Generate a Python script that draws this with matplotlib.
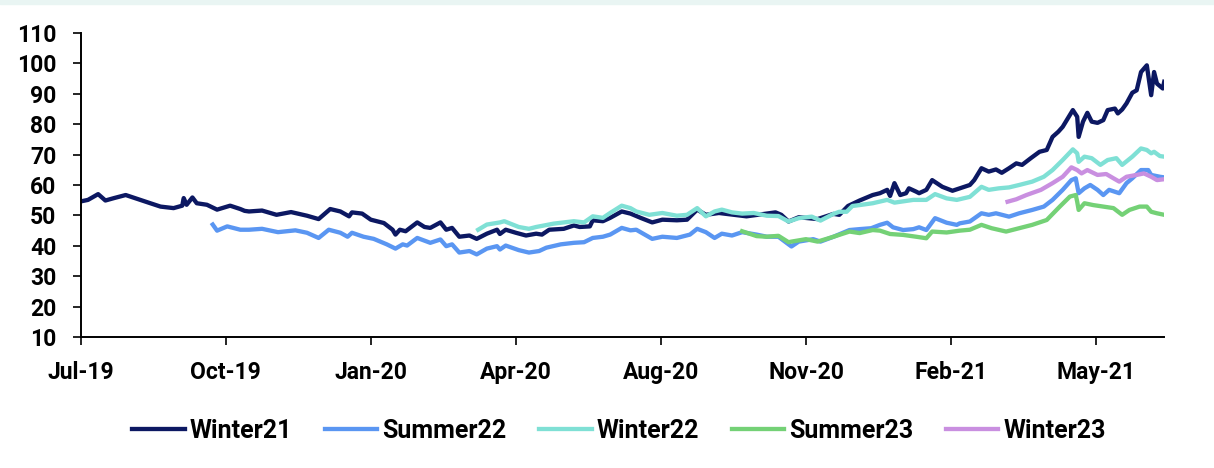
import pandas as pd
import matplotlib.pyplot as plt
import matplotlib.dates as mdates
from matplotlib.patches import Rectangle

plt.rcParams['font.family'] = ['Roboto', 'DejaVu Sans']
plt.rcParams['font.weight'] = 'bold'

# all series are indexed by days since 1 Jul 2019
start = pd.Timestamp('2019-07-01')

winter21_days = [0, 5, 12, 17, 23, 31, 41, 48, 55, 64, 70, 71, 73, 77, 80, 87, 94, 103, 110, 113,
                 116, 125, 135, 145, 156, 164, 172, 179, 185, 187, 194, 200, 209, 215, 217, 220,
                 224, 232, 237, 241, 248, 252, 256, 261, 268, 273, 280, 287, 289, 293, 300, 307,
                 314, 318, 323, 333, 340, 344, 351, 353, 360, 365, 373, 379, 386, 394, 401, 411,
                 418, 425, 431, 440, 459, 479, 483, 488, 495, 508, 519, 523, 529, 537, 546, 551,
                 556, 558, 561, 565, 569, 571, 576, 578, 583, 587, 594, 601, 606, 613, 616, 621,
                 626, 631, 635, 640, 645, 649, 655, 661, 666, 670, 674, 677, 682, 684, 687, 688,
                 691, 694, 697, 701, 705, 708, 713, 715, 718, 721, 725, 728, 731, 735, 738, 740,
                 742, 746, 747]
winter21_vals = [54.6, 55.1, 57.0, 54.9, 55.7, 56.7, 55.1, 54.0, 52.9, 52.4, 53.2, 55.7, 53.5, 55.9,
                 54.0, 53.5, 51.9, 53.2, 52.1, 51.5, 51.3, 51.6, 50.2, 51.1, 49.9, 48.8, 52.1, 51.3,
                 49.7, 51.0, 50.6, 48.6, 47.5, 45.3, 43.7, 45.3, 44.8, 47.7, 46.2, 45.9, 47.7, 45.3,
                 45.9, 43.0, 43.4, 42.3, 44.0, 45.3, 43.9, 45.3, 44.3, 43.4, 44.0, 43.7, 45.3, 45.6,
                 46.7, 46.2, 46.4, 48.4, 48.1, 49.2, 51.3, 50.6, 49.2, 47.7, 48.6, 48.4, 48.6, 51.9,
                 50.2, 50.8, 49.7, 51.0, 50.2, 48.0, 49.4, 48.8, 50.5, 50.2, 53.1, 54.9, 56.7, 57.3,
                 58.4, 56.4, 60.6, 56.7, 57.3, 58.9, 57.8, 57.3, 58.4, 61.6, 59.4, 58.1, 58.9, 60.0,
                 61.6, 65.5, 64.4, 65.1, 64.0, 65.5, 67.1, 66.6, 68.8, 70.9, 71.5, 75.8, 77.5, 79.1,
                 83.0, 84.6, 82.4, 75.8, 80.8, 83.7, 80.8, 80.4, 81.3, 84.6, 85.1, 83.5, 84.8, 86.8,
                 90.3, 91.1, 97.1, 99.3, 89.5, 97.1, 93.3, 91.7, 93.9]

summer22_days = [91, 94, 101, 110, 116, 125, 136, 148, 156, 164, 171, 179, 184, 187, 195, 202, 211,
                 217, 222, 225, 232, 241, 248, 252, 256, 261, 268, 273, 280, 287, 289, 293, 302, 309,
                 316, 321, 331, 340, 347, 353, 360, 365, 373, 379, 383, 394, 401, 411, 420, 425,
                 431, 437, 442, 449, 456, 466, 473, 481, 488, 490, 495, 505, 510, 519, 530, 537,
                 545, 551, 556, 560, 567, 574, 578, 583, 589, 597, 604, 606, 613, 621, 626, 631,
                 640, 647, 656, 664, 670, 677, 683, 686, 688, 692, 696, 701, 705, 709, 716, 721,
                 725, 731, 736, 738, 744, 747]
summer22_vals = [47.0, 45.0, 46.4, 45.3, 45.3, 45.6, 44.5, 45.1, 44.3, 42.6, 45.3, 44.3, 43.0, 44.3,
                 43.0, 42.3, 40.5, 39.1, 40.5, 40.1, 42.6, 41.0, 42.1, 39.9, 40.5, 37.8, 38.3, 37.2,
                 39.1, 39.9, 38.8, 40.1, 38.6, 37.8, 38.3, 39.4, 40.5, 41.0, 41.2, 42.6, 43.0, 43.7,
                 45.9, 45.1, 45.3, 42.3, 43.0, 42.6, 43.7, 45.6, 44.5, 42.6, 44.0, 43.4, 44.5, 43.7,
                 43.0, 43.0, 40.5, 39.8, 41.4, 42.2, 41.4, 43.0, 45.2, 45.5, 45.8, 46.9, 47.6, 46.1,
                 45.2, 45.5, 46.1, 45.2, 49.1, 47.6, 46.9, 47.4, 48.0, 50.7, 50.2, 50.7, 49.6, 50.7,
                 51.8, 52.9, 55.1, 58.4, 61.6, 62.2, 57.3, 58.9, 60.0, 58.4, 56.7, 58.4, 57.3, 60.6,
                 62.2, 64.9, 64.9, 63.3, 62.7, 62.5]

winter22_days = [274, 280, 289, 292, 302, 309, 314, 326, 333, 340, 347, 353, 360, 365, 373, 379,
                 383, 392, 401, 411, 418, 425, 431, 437, 442, 449, 456, 464, 473, 481, 488, 495,
                 504, 510, 519, 523, 528, 532, 537, 546, 556, 561, 574, 583, 589, 597, 604, 613,
                 621, 626, 633, 640, 647, 656, 664, 670, 677, 684, 687, 688, 692, 697, 703, 708,
                 714, 718, 725, 731, 735, 738, 740, 744, 747]
winter22_vals = [45.3, 47.0, 47.7, 48.1, 46.2, 45.6, 46.2, 47.3, 47.7, 48.1, 47.7, 49.7, 49.2, 50.8,
                 53.2, 52.4, 51.3, 50.2, 50.8, 49.9, 50.2, 52.4, 49.7, 51.3, 51.9, 51.0, 50.6, 50.8,
                 49.9, 49.8, 48.0, 49.1, 49.6, 48.3, 50.5, 51.2, 51.2, 53.1, 53.4, 54.0, 55.1, 54.2,
                 55.1, 55.1, 57.0, 55.6, 55.1, 56.1, 59.4, 58.4, 58.9, 59.2, 60.0, 61.1, 62.7, 64.9,
                 68.2, 71.7, 70.4, 67.6, 69.3, 68.8, 66.6, 68.2, 68.8, 66.6, 69.3, 72.0, 71.5, 70.4,
                 70.9, 69.5, 69.3]

summer23_days = [456, 466, 473, 481, 488, 490, 500, 508, 519, 530, 537, 546, 551, 558, 567, 576,
                 583, 587, 597, 606, 613, 621, 628, 638, 647, 656, 666, 675, 682, 686, 687, 688,
                 692, 698, 705, 712, 718, 723, 730, 735, 738, 742, 747]
summer23_vals = [44.8, 43.2, 43.0, 43.3, 41.2, 41.4, 42.2, 41.4, 43.0, 44.7, 44.2, 45.2, 45.0, 43.9,
                 43.6, 43.0, 42.5, 44.7, 44.4, 45.0, 45.3, 46.9, 45.8, 44.7, 45.8, 46.9, 48.5, 52.9,
                 56.2, 56.7, 54.5, 51.8, 54.0, 53.4, 52.9, 52.4, 50.2, 51.8, 52.9, 52.9, 51.2, 50.7,
                 50.2]

winter23_days = [639, 645, 652, 662, 670, 677, 683, 687, 690, 694, 701, 707, 712, 716, 721, 728,
                 733, 738, 742, 747]
winter23_vals = [54.5, 55.3, 56.7, 58.4, 60.6, 62.7, 65.8, 64.9, 63.8, 64.9, 63.3, 63.6, 62.2, 61.1,
                 62.7, 63.3, 63.8, 62.7, 61.6, 61.9]

series = [
    ('Winter21', winter21_days, winter21_vals, '#0c1862'),
    ('Summer22', summer22_days, summer22_vals, '#5a96f2'),
    ('Winter22', winter22_days, winter22_vals, '#7fe0d5'),
    ('Summer23', summer23_days, summer23_vals, '#74d176'),
    ('Winter23', winter23_days, winter23_vals, '#c98fe0'),
]

fig = plt.figure(figsize=(12.14, 4.68), dpi=100)
fig.patches.append(Rectangle((0, 1 - 4 / 468), 1, 4 / 468, transform=fig.transFigure,
                             color='#e9f5f3', zorder=0))
ax = fig.add_axes([0.0665, 0.2795, 0.8925, 0.6505])

for name, days, vals, color in series:
    dates = start + pd.to_timedelta(days, unit='D')
    ax.plot(dates, vals, color=color, lw=3.1, label=name, solid_joinstyle='round')

ax.set_ylim(10, 110)
ax.set_yticks(range(10, 111, 10))
ax.set_xlim(start, start + pd.Timedelta(days=747))
ax.set_xticks([start + pd.Timedelta(days=100 * k) for k in range(8)])
ax.xaxis.set_major_formatter(mdates.DateFormatter('%b-%y'))

for side in ['top', 'right']:
    ax.spines[side].set_visible(False)
for side in ['left', 'bottom']:
    ax.spines[side].set_linewidth(1.4)
ax.tick_params(axis='both', direction='out', length=5.5, width=1.2, labelsize=16.5, pad=12)
for lbl in ax.get_xticklabels() + ax.get_yticklabels():
    lbl.set_fontweight('bold')

ax.legend(loc='upper center', bbox_to_anchor=(0.497, -0.195), ncol=5, frameon=False,
          prop={'size': 18, 'weight': 'bold'}, handlelength=2.1, handletextpad=0.2,
          columnspacing=1.3)

fig.savefig('out.png', dpi=100)
